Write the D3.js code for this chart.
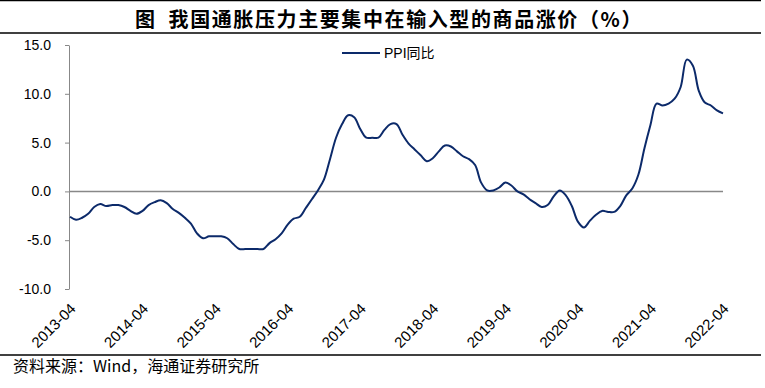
<!DOCTYPE html>
<html>
<head>
<meta charset="utf-8">
<script src="https://cdn.jsdelivr.net/npm/d3@7"></script>
<style>
  body { margin: 0; background: #fff; }
  svg { display: block; font-family: "Liberation Sans", Arial, "Noto Sans CJK SC", sans-serif; }
</style>
</head>
<body>
<svg id="chart" width="765" height="388"></svg>
<script>
// PPI yoy (%), monthly 2013-04 .. 2022-04
const startMonth = '2013-04';
const ppiYoY = [
  -2.6, -2.9, -2.7, -2.3, -1.6, -1.3, -1.5, -1.4, -1.4,
  -1.6, -2.0, -2.3, -2.0, -1.4, -1.1, -0.9, -1.2, -1.8, -2.2, -2.7, -3.3,
  -4.3, -4.8, -4.6, -4.6, -4.6, -4.8, -5.4, -5.9, -5.9, -5.9, -5.9, -5.9,
  -5.3, -4.9, -4.3, -3.4, -2.8, -2.6, -1.7, -0.8, 0.1, 1.2, 3.3, 5.5,
  6.9, 7.8, 7.6, 6.4, 5.5, 5.5, 5.5, 6.3, 6.9, 6.9, 5.8, 4.9,
  4.3, 3.7, 3.1, 3.4, 4.1, 4.7, 4.6, 4.1, 3.6, 3.3, 2.7, 0.9,
  0.1, 0.1, 0.4, 0.9, 0.6, 0.0, -0.3, -0.8, -1.2, -1.6, -1.4, -0.5,
  0.1, -0.4, -1.5, -3.1, -3.7, -3.0, -2.4, -2.0, -2.1, -2.1, -1.5, -0.4,
  0.3, 1.7, 4.4, 6.8, 9.0, 8.8, 9.0, 9.5, 10.7, 13.5, 12.9, 10.3,
  9.1, 8.8, 8.3, 8.0
];
const xTickLabels = ['2013-04', '2014-04', '2015-04', '2016-04', '2017-04',
  '2018-04', '2019-04', '2020-04', '2021-04', '2022-04'];
const yTicks = [-10, -5, 0, 5, 10, 15];

const parse = d3.timeParse('%Y-%m');
const fmt = d3.timeFormat('%Y-%m');
const t0 = parse(startMonth);
const months = ppiYoY.map((v, i) => fmt(d3.timeMonth.offset(t0, i)));
const data = months.map((m, i) => ({ month: m, value: ppiYoY[i] }));

const svg = d3.select('#chart');
const lineColor = '#0c2a6a';

const x = d3.scalePoint().domain(months).range([70, 723]);
const y = d3.scaleLinear().domain([-10, 15]).range([289, 45]);

// title and frame lines
const title = svg.append('text')
  .attr('x', 389).attr('y', 27)
  .attr('text-anchor', 'middle')
  .style('font-family', '"Noto Sans CJK SC", sans-serif')
  .style('font-size', '20px')
  .style('font-weight', 'bold')
  .style('letter-spacing', '1.6px');
title.append('tspan').text('图');
title.append('tspan').attr('dx', 12).text('我国通胀压力主要集中在输入型的商品涨价（%）');

[0.5, 33, 355].forEach(yy => {
  svg.append('line')
    .attr('x1', 0).attr('x2', 761)
    .attr('y1', yy).attr('y2', yy)
    .attr('stroke', '#000').attr('stroke-width', 1.5);
});

// y axis
const yAxis = svg.append('g')
  .attr('transform', 'translate(69,0)')
  .call(d3.axisLeft(y).tickValues(yTicks).tickSize(4).tickSizeOuter(0)
    .tickPadding(14).tickFormat(d => d.toFixed(1)));
yAxis.select('.domain').attr('stroke', '#888');
yAxis.selectAll('.tick line').attr('stroke', '#888');
yAxis.selectAll('.tick text')
  .style('font-size', '14px')
  .style('font-family', '"Liberation Sans", Arial, sans-serif')
  .attr('fill', '#000');

// zero line
svg.append('line')
  .attr('x1', 69).attr('x2', x(months[months.length - 1]))
  .attr('y1', y(0)).attr('y2', y(0))
  .attr('stroke', '#888').attr('stroke-width', 1.5);

// x labels
svg.append('g').selectAll('text')
  .data(xTickLabels)
  .join('text')
  .attr('transform', d => 'translate(' + (x(d) + 3) + ',306) rotate(-45)')
  .attr('text-anchor', 'end')
  .attr('dy', '0.35em')
  .style('font-size', '15px')
  .text(d => d);

// the series line
const line = d3.line()
  .x(d => x(d.month))
  .y(d => y(d.value))
  .curve(d3.curveCatmullRom.alpha(0.5));

svg.append('path')
  .datum(data)
  .attr('d', line)
  .attr('fill', 'none')
  .attr('stroke', lineColor)
  .attr('stroke-width', 2);

// legend
svg.append('line')
  .attr('x1', 342).attr('x2', 380)
  .attr('y1', 53).attr('y2', 53)
  .attr('stroke', lineColor).attr('stroke-width', 2);
svg.append('text')
  .attr('x', 384).attr('y', 58)
  .style('font-size', '14px')
  .text('PPI同比');

// source note
svg.append('text')
  .attr('x', 13).attr('y', 372)
  .style('font-size', '16px')
  .style('font-family', '"Noto Sans CJK SC", sans-serif')
  .text('资料来源：Wind，海通证券研究所');
</script>
</body>
</html>
